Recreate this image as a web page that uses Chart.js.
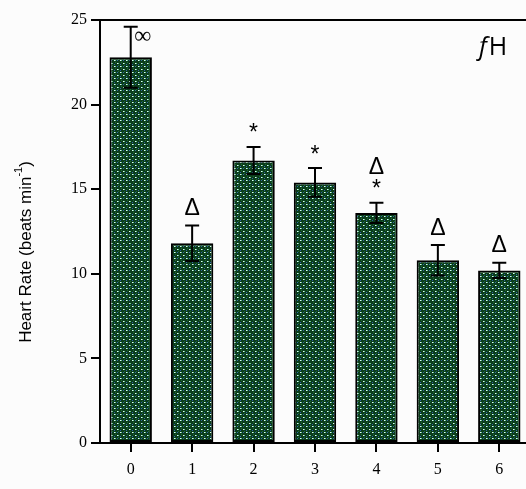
<!DOCTYPE html>
<html>
<head>
<meta charset="utf-8">
<script src="https://cdn.jsdelivr.net/npm/chart.js@4"></script>
<style>
  body { margin: 0; background: #fcfcfc; overflow: hidden; }
  #wrap { width: 530px; height: 489px; }
</style>
</head>
<body>
<div id="wrap"><canvas id="hrChart"></canvas></div>
<script>
// DATA PART

var days = ['0', '1', '2', '3', '4', '5', '6'];
var heartRate = [22.8, 11.8, 16.7, 15.4, 13.6, 10.8, 10.2];
var heartRateSE = [1.8, 1.05, 0.8, 0.85, 0.6, 0.9, 0.45];
// symbols stacked above each error bar, lowest first
var marksAbove = [[], ['Δ'], ['*'], ['*'], ['*', 'Δ'], ['Δ'], ['Δ']];
var marksBeside = ['∞', '', '', '', '', '', ''];
var yTicks = [0, 5, 10, 15, 20, 25];

// dotted dark green fill for the bars
function makePattern(){
    var c = document.createElement('canvas');
    c.width = 6;
    c.height = 6;
    var g = c.getContext('2d');
    g.fillStyle = '#0b3d1b';
    g.fillRect(0, 0, 6, 6);
    g.fillStyle = '#1d6a3a';
    g.fillRect(1, 2, 1, 1);
    g.fillRect(4, 5, 1, 1);
    g.fillStyle = '#6cc39a';
    g.fillRect(1, 0, 1, 1);
    g.fillRect(4, 3, 1, 1);
    g.fillStyle = '#e0fff2';
    g.fillRect(0, 0, 1, 1);
    g.fillRect(3, 3, 1, 1);
    g.fillStyle = '#2f63aa';
    g.fillRect(3, 0, 1, 1);
    g.fillRect(0, 4, 1, 1);
    return g.createPattern(c, 'repeat');
}

// PLUGIN PART

var extras = {
    id: 'extras',
    afterDatasetsDraw: function(chart){
        var ctx = chart.ctx;
        var area = chart.chartArea;
        var x = chart.scales.x;
        var y = chart.scales.y;

        ctx.save();
        ctx.strokeStyle = '#000';

        // frame line along the top
        ctx.lineWidth = 2;
        ctx.beginPath();
        ctx.moveTo(area.left, area.top);
        ctx.lineTo(chart.width, area.top);
        ctx.stroke();

        heartRate.forEach(function(v, i){
            var cx = x.getPixelForValue(i);
            var top = y.getPixelForValue(v + heartRateSE[i]);
            var bot = y.getPixelForValue(v - heartRateSE[i]);

            // error bar
            ctx.lineWidth = 2;
            ctx.beginPath();
            ctx.moveTo(cx, top);
            ctx.lineTo(cx, bot);
            ctx.moveTo(cx - 7, top);
            ctx.lineTo(cx + 7, top);
            ctx.moveTo(cx - 7, bot);
            ctx.lineTo(cx + 7, bot);
            ctx.stroke();

            // significance symbols
            ctx.fillStyle = '#000';
            ctx.textAlign = 'center';
            ctx.textBaseline = 'alphabetic';
            ctx.font = '23px "Liberation Sans"';
            marksAbove[i].forEach(function(s, k){
                var m = ctx.measureText(s);
                var cy = top - 19 - k * 18;
                ctx.fillText(s, cx, cy + (m.actualBoundingBoxAscent - m.actualBoundingBoxDescent) / 2);
            });
            if (marksBeside[i]) {
                ctx.font = '24px "Liberation Serif"';
                var m2 = ctx.measureText(marksBeside[i]);
                ctx.fillText(marksBeside[i], cx + 12, top + 9 + (m2.actualBoundingBoxAscent - m2.actualBoundingBoxDescent) / 2);
            }
        });

        // panel label fH
        ctx.textAlign = 'left';
        ctx.font = 'italic 25px "Open Sans"';
        ctx.fillText('f', 479, 55);
        var fw = ctx.measureText('f').width;
        ctx.font = '25px "Open Sans"';
        ctx.fillText('H', 479 + fw + 2, 55);

        // y axis title with superscript
        ctx.translate(26, 252);
        ctx.rotate(-Math.PI / 2);
        ctx.font = '17px "Liberation Sans"';
        var a = 'Heart Rate (beats min';
        var sup = '-1';
        var b = ')';
        var wa = ctx.measureText(a).width;
        var wb = ctx.measureText(b).width;
        ctx.font = '11px "Liberation Sans"';
        var ws = ctx.measureText(sup).width;
        var start = -(wa + ws + wb) / 2;
        ctx.textBaseline = 'middle';
        ctx.font = '17px "Liberation Sans"';
        ctx.fillText(a, start, 0);
        ctx.font = '11px "Liberation Sans"';
        ctx.fillText(sup, start + wa, -7);
        ctx.font = '17px "Liberation Sans"';
        ctx.fillText(b, start + wa + ws, 0);
        ctx.restore();
    }
};

// CHART PART

var ctx = document.getElementById('hrChart').getContext('2d');
var hrChart = new Chart(ctx, {
    type: 'bar',
    data: {
        labels: days,
        datasets: [{
            data: heartRate,
            backgroundColor: makePattern(),
            borderColor: '#000',
            borderWidth: 2,
            borderSkipped: false,
            categoryPercentage: 1,
            barPercentage: 0.69
        }]
    },
    options: {
        responsive: true,
        maintainAspectRatio: false,
        animation: false,
        layout: { padding: { top: 20, right: 0, left: 0, bottom: 0 } },
        plugins: {
            legend: { display: false },
            tooltip: { enabled: false }
        },
        scales: {
            x: {
                offset: true,
                grid: { display: true, drawOnChartArea: false, tickLength: 9, tickColor: '#000', lineWidth: 2, offset: false },
                border: { color: '#000', width: 2 },
                ticks: { color: '#000', padding: 8, font: { family: 'Liberation Serif', size: 16 } },
                afterFit: function(scale){ scale.height = 46; }
            },
            y: {
                min: 0,
                max: 25,
                afterBuildTicks: function(scale){
                    scale.ticks = yTicks.map(function(v){ return { value: v }; });
                },
                grid: { display: true, drawOnChartArea: false, tickLength: 9, tickColor: '#000', lineWidth: 2 },
                border: { color: '#000', width: 2 },
                ticks: { color: '#000', padding: 4, font: { family: 'Liberation Serif', size: 16 } },
                afterFit: function(scale){ scale.width = 100; }
            }
        }
    },
    plugins: [extras]
});
</script>
</body>
</html>
